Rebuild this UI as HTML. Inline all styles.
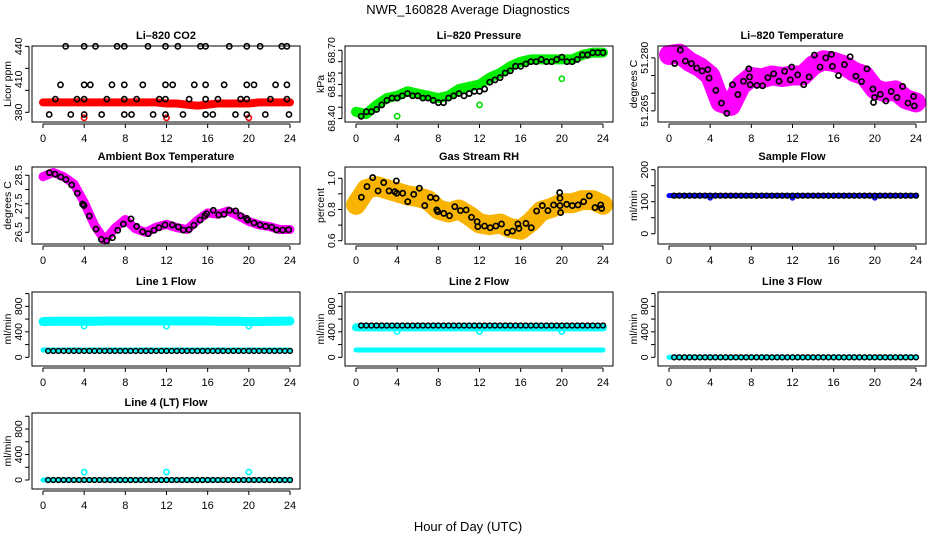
<!DOCTYPE html>
<html><head><meta charset="utf-8"><style>
html,body{margin:0;padding:0;background:#fff;}
svg{display:block;font-family:"Liberation Sans",Arial,sans-serif;}
</style></head><body>
<svg id="chart" width="936" height="540" viewBox="0 0 936 540" xmlns="http://www.w3.org/2000/svg">
<text x="468" y="14" text-anchor="middle" font-size="13">NWR_160828  Average Diagnostics</text>
<text x="468" y="531" text-anchor="middle" font-size="13">Hour of Day (UTC)</text>
</svg>
<script>
// ---------- data ----------
const halfHours = [0.5,1,1.5,2,2.5,3,3.5,4,4.5,5,5.5,6,6.5,7,7.5,8,8.5,9,9.5,10,10.5,11,11.5,12,12.5,13,13.5,14,14.5,15,15.5,16,16.5,17,17.5,18,18.5,19,19.5,20,20.5,21,21.5,22,22.5,23,23.5,24];
const hourly = [0,1,2,3,4,5,6,7,8,9,10,11,12,13,14,15,16,17,18,19,20,21,22,23,24];
const outlierHours = [4,12,20];

// CO2
const co2Red = [389,389,389,389,389,389,389,389,389,389,389,389,388,388,387,386,387,388,388,388,388,389,389,389,389];
const co2RedOut = [375,375,375];
const co2H440 = [2.2,4.0,5.1,7.2,7.9,10.2,11.9,13.1,15.3,15.8,18.1,19.8,21.1,23.2,23.7];
const co2V440 = [440,440,440,440,440,440,440,440,440,440,440,440,440,440,440];
const co2H405 = [1.7,4.0,4.6,6.7,7.9,9.7,11.9,12.6,14.7,15.8,17.6,19.8,20.5,22.6,23.7];
const co2V405 = [405,405,405,405,405,405,405,405,405,405,405,405,405,405,405];
const co2H392 = [1.2,3.3,4.0,6.2,7.9,9.1,11.3,11.9,14.2,15.8,17.0,19.2,19.8,22.1,23.7];
const co2V392 = [392,392,392,392,392,392,392,392,392,392,392,392,392,392,392];
const co2H378 = [0.6,2.7,4.0,5.7,7.9,8.6,10.7,11.9,13.6,15.8,16.5,18.7,19.8,21.6,23.9];
const co2V378 = [378,378,378,378,378,378,378,378,378,378,378,378,378,378,378];

// Pressure
const presGreen = [68.43,68.42,68.46,68.49,68.50,68.52,68.51,68.50,68.49,68.50,68.53,68.54,68.55,68.58,68.60,68.63,68.65,68.66,68.66,68.66,68.66,68.66,68.68,68.69,68.69];
const presGreenOut = [68.41,68.46,68.575];
const presBlack = [68.41,68.43,68.43,68.44,68.46,68.48,68.49,68.49,68.50,68.51,68.50,68.50,68.49,68.49,68.48,68.47,68.47,68.49,68.50,68.51,68.50,68.51,68.52,68.52,68.53,68.56,68.57,68.58,68.60,68.61,68.63,68.63,68.64,68.65,68.65,68.66,68.65,68.65,68.66,68.67,68.65,68.65,68.66,68.68,68.68,68.69,68.69,68.69];

// Li-820 temperature
const tempMag = [51.2808,51.2812,51.2789,51.2774,51.2750,51.2674,51.2664,51.2722,51.2746,51.2742,51.2750,51.2746,51.2750,51.2750,51.2779,51.2793,51.2789,51.2779,51.2760,51.2750,51.2712,51.2703,51.2708,51.2683,51.2674];
const tempBlackH = [0.55,1.10,1.59,2.18,2.70,3.22,3.77,3.90,4.55,5.10,5.62,6.17,6.69,7.24,7.76,7.83,7.89,8.54,9.09,9.61,10.17,10.69,11.24,11.79,11.92,12.50,13.09,13.61,14.13,14.68,15.23,15.78,15.88,16.47,17.05,17.60,18.16,18.71,19.23,19.81,19.87,19.97,20.53,21.07,21.59,22.15,22.70,23.22,23.77,23.84];
const tempBlackV = [51.2784,51.2822,51.2791,51.2784,51.2771,51.2763,51.2767,51.2743,51.2708,51.2672,51.2643,51.2724,51.2696,51.2734,51.2769,51.2746,51.2724,51.2722,51.2721,51.2744,51.2755,51.2734,51.2762,51.2738,51.2774,51.2752,51.2724,51.2746,51.2808,51.2774,51.2800,51.2810,51.2776,51.2750,51.2781,51.2803,51.2748,51.2733,51.2769,51.2712,51.2674,51.2688,51.2697,51.2678,51.2705,51.2688,51.2719,51.2672,51.2691,51.2664];

// Ambient box temperature
const ambMag = [28.45,28.60,28.45,28.20,27.55,26.75,26.22,26.65,26.95,26.62,26.50,26.68,26.78,26.66,26.60,26.92,27.18,27.13,27.25,27.08,26.88,26.76,26.70,26.60,26.60];
const ambBlackH = [0.62,1.17,1.72,2.23,2.79,3.34,3.85,3.98,4.50,5.15,5.67,6.19,6.74,7.26,7.81,8.55,9.10,9.68,10.23,10.79,11.27,11.85,12.57,13.15,13.64,14.19,14.67,15.26,15.74,15.90,16.55,17.07,17.59,18.11,18.72,19.21,19.79,19.89,20.50,21.09,21.64,22.22,22.70,23.29,23.87];
const ambBlackV = [28.59,28.54,28.44,28.35,28.16,27.87,27.49,27.44,27.07,26.61,26.25,26.20,26.31,26.57,26.79,26.97,26.71,26.52,26.45,26.57,26.66,26.76,26.76,26.69,26.58,26.59,26.75,26.93,27.08,27.15,27.27,27.11,27.13,27.27,27.25,27.08,26.99,26.93,26.83,26.76,26.71,26.68,26.58,26.58,26.59];

// Gas stream RH
const rhOrange = [0.83,0.93,0.95,0.93,0.91,0.89,0.88,0.86,0.80,0.78,0.80,0.76,0.71,0.70,0.71,0.68,0.67,0.72,0.79,0.81,0.84,0.84,0.86,0.86,0.83];
const rhBlackH = [0.52,1.07,1.62,2.14,2.69,3.21,3.76,3.92,3.96,4.54,5.03,5.61,6.16,6.68,7.23,7.78,7.85,7.95,8.53,9.08,9.60,10.15,10.70,11.22,11.77,11.84,12.49,13.04,13.59,14.14,14.69,15.21,15.73,15.83,16.51,17.03,17.55,18.10,18.65,19.20,19.79,19.82,19.82,19.88,20.47,21.02,21.57,22.12,22.67,23.22,23.78,23.87];
const rhBlackV = [0.878,0.947,1.004,0.919,0.972,0.919,0.914,0.983,0.904,0.904,0.850,0.897,0.936,0.825,0.878,0.872,0.797,0.786,0.775,0.760,0.818,0.793,0.797,0.750,0.722,0.690,0.694,0.683,0.694,0.707,0.653,0.662,0.707,0.679,0.711,0.683,0.790,0.825,0.793,0.829,0.908,0.872,0.825,0.780,0.833,0.825,0.829,0.850,0.887,0.812,0.829,0.807];

// Sample flow
const sampleBlue = [119,119,119,119,119,119,119,119,119,119,119,119,119,119,119,119,119,119,119,119,119,119,119,119,119];
const sampleBlueOut = [112,112,112];
const sampleBlack = [119,119,119,119,119,119,119,119,119,119,119,119,119,119,119,119,119,119,119,119,119,119,119,119,119,119,119,119,119,119,119,119,119,119,119,119,119,119,119,119,119,119,119,119,119,119,119,119];

// Line flows
const line1CyanHigh = [560,565,565,565,565,565,570,570,570,570,570,570,570,570,570,570,570,565,565,565,560,560,565,565,570];
const line1CyanLow = [115,115,115,115,115,115,115,115,115,115,115,115,115,115,115,115,115,115,115,115,115,115,115,115,115];
const line1CyanOut = [490,490,490];
const line1Black = [100,100,100,100,100,100,100,100,100,100,100,100,100,100,100,100,100,100,100,100,100,100,100,100,100,100,100,100,100,100,100,100,100,100,100,100,100,100,100,100,100,100,100,100,100,100,100,100];
const line2CyanHigh = [470,470,470,470,470,470,470,470,470,470,470,470,470,470,470,470,470,470,470,470,470,470,470,470,470];
const line2CyanLow = [115,115,115,115,115,115,115,115,115,115,115,115,115,115,115,115,115,115,115,115,115,115,115,115,115];
const line2CyanOut = [405,405,405];
const line2Black = [500,500,500,500,500,500,500,500,500,500,500,500,500,500,500,500,500,500,500,500,500,500,500,500,500,500,500,500,500,500,500,500,500,500,500,500,500,500,500,500,500,500,500,500,500,500,500,500];
const line3Cyan = [0,0,0,0,0,0,0,0,0,0,0,0,0,0,0,0,0,0,0,0,0,0,0,0,0];
const line3Black = [0,0,0,0,0,0,0,0,0,0,0,0,0,0,0,0,0,0,0,0,0,0,0,0,0,0,0,0,0,0,0,0,0,0,0,0,0,0,0,0,0,0,0,0,0,0,0,0];
const line4Cyan = [0,0,0,0,0,0,0,0,0,0,0,0,0,0,0,0,0,0,0,0,0,0,0,0,0];
const line4CyanOut = [125,125,125];
const line4Black = [0,0,0,0,0,0,0,0,0,0,0,0,0,0,0,0,0,0,0,0,0,0,0,0,0,0,0,0,0,0,0,0,0,0,0,0,0,0,0,0,0,0,0,0,0,0,0,0];

const xTicks = [0,4,8,12,16,20,24];

// ---------- drawing ----------
const NS = "http://www.w3.org/2000/svg";
const svg = document.getElementById("chart");
const colLeft = [32,345,658];
const rowTop = [46,167,292,413];
const rowH = [76,77,74,76];
const W = 268;

function mk(tag, attrs, parent){
  const e = document.createElementNS(NS, tag);
  for (const k in attrs) e.setAttribute(k, attrs[k]);
  (parent||svg).appendChild(e);
  return e;
}

function panel(name, ci, ri, title, ylab, ylim, ticks, labels){
  const L = colLeft[ci], T = rowTop[ri], H = rowH[ri], B = T + H;
  const g = mk("g", {});
  
  
  const x = h => L + 11 + h * 247 / 24;
  const y = v => B - (v - ylim[0]) / (ylim[1] - ylim[0]) * H;
  const t = mk("text", {x: L + W/2, y: T - 7, "text-anchor": "middle", "font-size": 11, "font-weight": "bold"}, g);
  t.textContent = title;
  
  
  const yl = mk("text", {x: 0, y: 0, "text-anchor": "middle", "font-size": 10.5, transform: "translate(" + (L - 21) + "," + (T + H/2) + ") rotate(-90)"}, g);
  yl.textContent = ylab;
  
  
  // x axis
  const xa = mk("g", {}, g);
  
  
  mk("line", {x1: x(0), x2: x(24), y1: B + 2, y2: B + 2, stroke: "#000", "stroke-width": 1}, xa);
  xTicks.forEach(v => {
    mk("line", {x1: x(v), x2: x(v), y1: B + 2, y2: B + 6, stroke: "#000"}, xa);
    const tl = mk("text", {x: x(v), y: B + 20, "text-anchor": "middle", "font-size": 11}, xa);
    tl.textContent = v;
    
    
  });
  // y axis
  const ya = mk("g", {}, g);
  
  
  mk("line", {x1: L - 3, x2: L - 3, y1: y(ticks[0]), y2: y(ticks[ticks.length-1]), stroke: "#000"}, ya);
  ticks.forEach(v => mk("line", {x1: L - 7, x2: L - 3, y1: y(v), y2: y(v), stroke: "#000"}, ya));
  labels.forEach(v => {
    const tl = mk("text", {x: 0, y: 0, "text-anchor": "middle", "font-size": 10.5, transform: "translate(" + (L - 10) + "," + y(v) + ") rotate(-90)"}, ya);
    tl.textContent = (typeof v === "number" && ylim[1] < 100 && ylim[1] > 2) ? v.toFixed(ylim[1] > 60 ? (ylim[1] > 60 && ylim[1] < 69 ? 2 : 3) : 1) : v;
    
    
  });
  const plot = mk("g", {}, g);
  
  
  const box = mk("rect", {x: L, y: T, width: W, height: H, fill: "none", stroke: "#000", "stroke-width": 1}, g);
  
  
  return {x, y, plot};
}

function band(p, hs, vs, color, width, nm){
  const d = hs.map((h,i) => (i ? "L" : "M") + p.x(h).toFixed(1) + "," + p.y(vs[i]).toFixed(1)).join("");
  const e = mk("path", {d, fill: "none", stroke: color, "stroke-width": width, "stroke-linecap": "round", "stroke-linejoin": "round"}, p.plot);
  
  
}
function pts(p, hs, vs, color, r, sw, nm){
  hs.forEach((h,i) => {
    const c = mk("circle", {cx: p.x(h), cy: p.y(vs[i]), r, fill: "none", stroke: color, "stroke-width": sw}, p.plot);
    
    
  });
}

// Row 1
let p = panel("co2", 0, 0, "Li\u2013820 CO2", "Licor ppm", [371.2, 440.3], [380,400,420,440], ["380","410","440"]);
band(p, hourly, co2Red, "#ff0000", 8, "co2-red-series");
pts(p, outlierHours, co2RedOut, "#ff0000", 2.6, 1.6, "co2-red-point");
pts(p, co2H440, co2V440, "#000", 2.6, 1.6, "co2-black-point");
pts(p, co2H405, co2V405, "#000", 2.6, 1.6, "co2-black-point");
pts(p, co2H392, co2V392, "#000", 2.6, 1.6, "co2-black-point");
pts(p, co2H378, co2V378, "#000", 2.6, 1.6, "co2-black-point");

p = panel("pressure", 1, 0, "Li\u2013820 Pressure", "kPa", [68.385, 68.719], [68.40,68.45,68.50,68.55,68.60,68.65,68.70], ["68.40","68.55","68.70"]);
band(p, hourly, presGreen, "#00ee00", 10, "pressure-green-series");
pts(p, outlierHours, presGreenOut, "#00dd00", 2.6, 1.6, "pressure-green-point");
pts(p, halfHours, presBlack, "#000", 2.6, 1.7, "pressure-black-point");

p = panel("li820-temp", 2, 0, "Li\u2013820 Temperature", "degrees C", [51.26185, 51.28336], [51.265,51.270,51.275,51.280], ["51.265","51.280"]);
band(p, hourly, tempMag, "#ff00ff", 20, "li820-temp-magenta-series");
pts(p, tempBlackH, tempBlackV, "#000", 2.6, 1.7, "li820-temp-black-point");

// Row 2
p = panel("ambient-temp", 0, 1, "Ambient Box Temperature", "degrees C", [26.09, 28.79], [26.5,27.0,27.5,28.0,28.5], ["26.5","27.5","28.5"]);
band(p, hourly, ambMag, "#ff00ff", 9, "ambient-magenta-series");
pts(p, ambBlackH, ambBlackV, "#000", 2.6, 1.7, "ambient-black-point");

p = panel("gas-rh", 1, 1, "Gas Stream RH", "percent", [0.579, 1.072], [0.6,0.7,0.8,0.9,1.0], ["0.6","0.8","1.0"]);
band(p, hourly, rhOrange, "#f8b400", 20, "rh-orange-series");
pts(p, rhBlackH, rhBlackV, "#000", 2.6, 1.7, "rh-black-point");

p = panel("sample-flow", 2, 1, "Sample Flow", "ml/min", [-32, 208.4], [0,50,100,150,200], ["0","100","200"]);
band(p, hourly, sampleBlue, "#0000ff", 5, "sample-blue-series");
pts(p, outlierHours, sampleBlueOut, "#0000ff", 2, 1.6, "sample-blue-point");
pts(p, halfHours, sampleBlack, "#000", 2.4, 1.5, "sample-black-point");

// Row 3
const flowTicks = [0,200,400,600,800,1000];
p = panel("line1-flow", 0, 2, "Line 1 Flow", "ml/min", [-136, 1025], flowTicks, ["0","400","800"]);
band(p, hourly, line1CyanHigh, "#00ffff", 9, "line1-cyan-high-series");
band(p, hourly, line1CyanLow, "#00ffff", 5, "line1-cyan-low-series");
pts(p, outlierHours, line1CyanOut, "#00ffff", 2.6, 1.6, "line1-cyan-point");
pts(p, halfHours, line1Black, "#000", 2.4, 1.5, "line1-black-point");

p = panel("line2-flow", 1, 2, "Line 2 Flow", "ml/min", [-136, 1025], flowTicks, ["0","400","800"]);
band(p, hourly, line2CyanHigh, "#00ffff", 8, "line2-cyan-high-series");
band(p, hourly, line2CyanLow, "#00ffff", 5, "line2-cyan-low-series");
pts(p, outlierHours, line2CyanOut, "#00ffff", 2.6, 1.6, "line2-cyan-point");
pts(p, halfHours, line2Black, "#000", 2.4, 1.5, "line2-black-point");

p = panel("line3-flow", 2, 2, "Line 3 Flow", "ml/min", [-136, 1025], flowTicks, ["0","400","800"]);
band(p, hourly, line3Cyan, "#00ffff", 5, "line3-cyan-series");
pts(p, halfHours, line3Black, "#000", 2.4, 1.5, "line3-black-point");

// Row 4
p = panel("line4-flow", 0, 3, "Line 4 (LT) Flow", "ml/min", [-141, 1051], flowTicks, ["0","400","800"]);
band(p, hourly, line4Cyan, "#00ffff", 5, "line4-cyan-series");
pts(p, outlierHours, line4CyanOut, "#00ffff", 2.6, 1.6, "line4-cyan-point");
pts(p, halfHours, line4Black, "#000", 2.4, 1.5, "line4-black-point");
</script>
</body></html>
